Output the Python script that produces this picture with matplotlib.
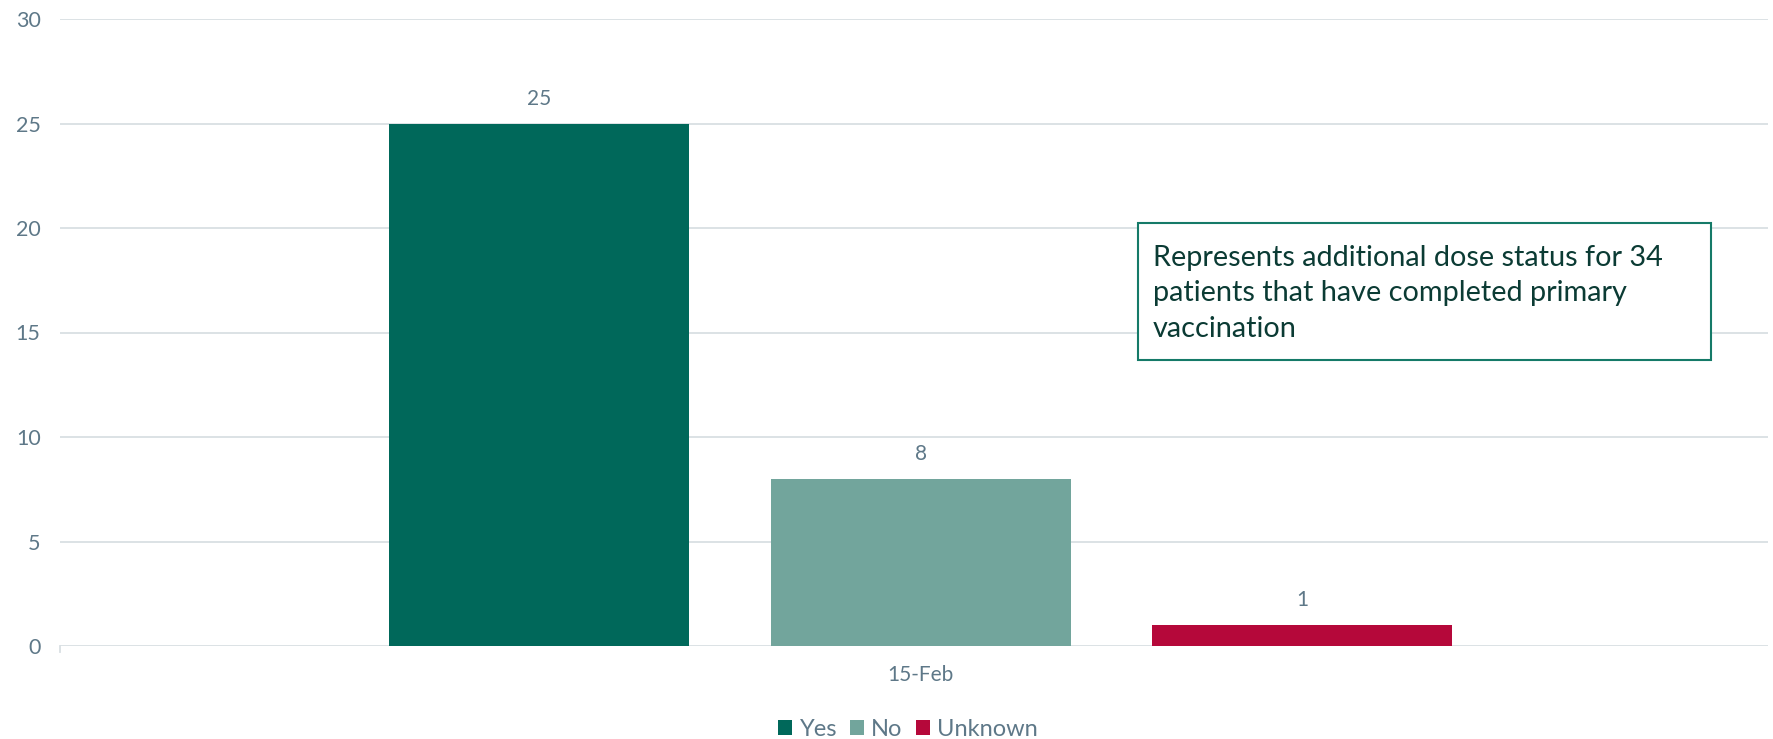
import matplotlib
matplotlib.use("Agg")
import matplotlib.pyplot as plt
from matplotlib.patches import Patch

plt.rcParams['font.family'] = ['Lato', 'DejaVu Sans']

# data
category = "15-Feb"
statuses = ["Yes", "No", "Unknown"]
counts = [25, 8, 1]
colors = ["#00685A", "#72A59C", "#B5083A"]
note = "Represents additional dose status for 34\npatients that have completed primary\nvaccination"

txt_col = "#5E7888"
grid_col = "#D9DFE3"

W, H = 1774, 739
fig = plt.figure(figsize=(W / 100, H / 100), dpi=100)
ax = fig.add_axes([60 / W, (H - 646) / H, (1768 - 60) / W, (646 - 19) / H])

center = 0.004
offsets = [-0.2234, 0.0, 0.2234]
width = 0.1757
for off, n, c in zip(offsets, counts, colors):
    ax.bar(center + off, n, width=width, color=c, zorder=3)
    ax.text(center + off, n + 0.7, str(n), ha='center', va='bottom', fontsize=15, color=txt_col)

ax.set_xlim(-0.5, 0.5)
ax.set_ylim(0, 30)
ax.set_yticks(range(0, 31, 5))
ax.set_xticks([center])
ax.set_xticklabels([category])
ax.yaxis.grid(True, color=grid_col, linewidth=1.3, zorder=0)
for s in ax.spines.values():
    s.set_visible(False)
ax.tick_params(axis='y', length=0, labelsize=15.5, labelcolor=txt_col, pad=14)
ax.tick_params(axis='x', length=0, labelsize=15, labelcolor=txt_col, pad=14)
# small stub at left end of the baseline
ax.plot([-0.5, -0.5], [0, -0.3], color=grid_col, lw=1.3, clip_on=False)

# annotation box
ax.add_patch(plt.Rectangle((0.131, 13.68), 0.3356, 6.56,
                           facecolor='white', edgecolor="#157A68", lw=1.5, zorder=4))
ax.text(0.1399, 19.2, note, ha='left', va='top',
        fontsize=20.8, color="#0B3B34", linespacing=1.45, zorder=5)

handles = [Patch(facecolor=c, edgecolor='none') for c in colors]
fig.legend(handles, statuses, loc='center', bbox_to_anchor=(908 / W, (H - 729) / H),
           ncol=3, frameon=False, fontsize=17, labelcolor=txt_col,
           handlelength=0.6, handleheight=0.6, handletextpad=0.3, columnspacing=0.55)

fig.savefig("out.png", dpi=100)
